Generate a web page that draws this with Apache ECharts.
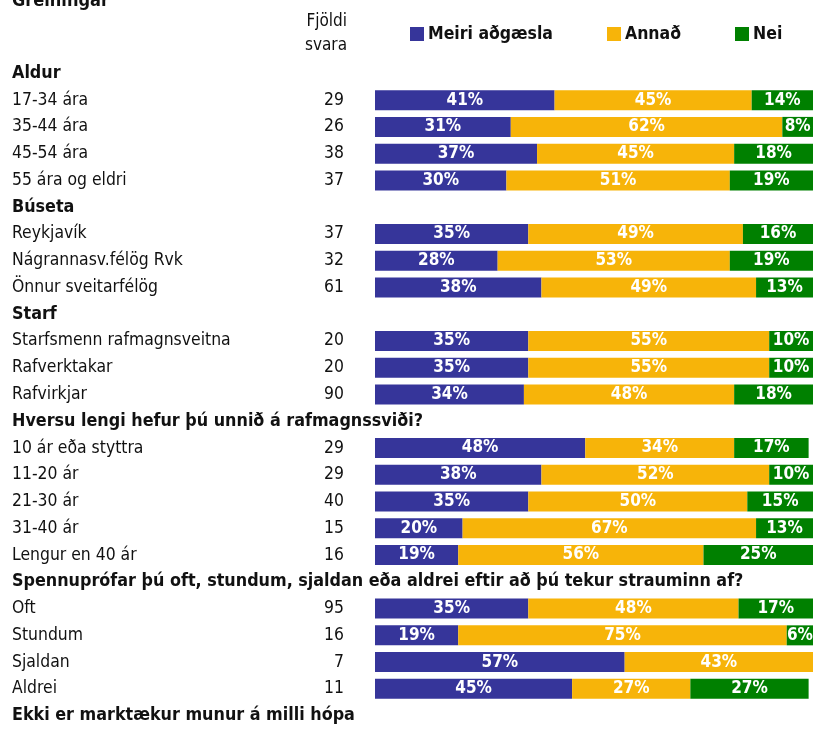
<!DOCTYPE html>
<html>
<head>
<meta charset="utf-8">
<script src="https://cdn.jsdelivr.net/npm/echarts@6/dist/echarts.min.js"></script>
<style>
  body { margin: 0; background: #fff; }
  #main { width: 817px; height: 729px; }
</style>
</head>
<body>
<div id="main"></div>
<script>
// gögn
var categories = [
  'Aldur', '17-34 ára', '35-44 ára', '45-54 ára', '55 ára og eldri',
  'Búseta', 'Reykjavík', 'Nágrannasv.félög Rvk', 'Önnur sveitarfélög',
  'Starf', 'Starfsmenn rafmagnsveitna', 'Rafverktakar', 'Rafvirkjar',
  'Hversu lengi hefur þú unnið á rafmagnssviði?', '10 ár eða styttra', '11-20 ár', '21-30 ár', '31-40 ár', 'Lengur en 40 ár',
  'Spennuprófar þú oft, stundum, sjaldan eða aldrei eftir að þú tekur strauminn af?', 'Oft', 'Stundum', 'Sjaldan', 'Aldrei',
  'Ekki er marktækur munur á milli hópa'
];
var headers = ['Aldur', 'Búseta', 'Starf',
  'Hversu lengi hefur þú unnið á rafmagnssviði?',
  'Spennuprófar þú oft, stundum, sjaldan eða aldrei eftir að þú tekur strauminn af?',
  'Ekki er marktækur munur á milli hópa'];
var counts = ['', 29, 26, 38, 37, '', 37, 32, 61, '', 20, 20, 90, '', 29, 29, 40, 15, 16, '', 95, 16, 7, 11, ''];
var meiri = [null, 41, 31, 37, 30, null, 35, 28, 38, null, 35, 35, 34, null, 48, 38, 35, 20, 19, null, 35, 19, 57, 45, null];
var annad = [null, 45, 62, 45, 51, null, 49, 53, 49, null, 55, 55, 48, null, 34, 52, 50, 67, 56, null, 48, 75, 43, 27, null];
var nei   = [null, 14, 8, 18, 19, null, 16, 19, 13, null, 10, 10, 18, null, 17, 10, 15, 13, 25, null, 17, 6, 0, 27, null];

var FONT = '"Liberation Sans Narrow", "Arial Narrow", "DejaVu Sans Condensed", sans-serif';
var INK = '#111';

var chart = echarts.init(document.getElementById('main'));

function makeSeries(name, data, color) {
  return {
    name: name,
    type: 'bar',
    stack: 'alls',
    data: data,
    barWidth: 20,
    itemStyle: { color: color },
    label: {
      show: true,
      position: 'inside',
      color: '#fff',
      fontFamily: FONT,
      fontWeight: 'bold',
      fontSize: 17,
      formatter: function (p) { return p.value ? p.value + '%' : ''; }
    }
  };
}

chart.setOption({
  animation: false,
  textStyle: { fontFamily: FONT },
  graphic: [
    { type: 'text', left: 12, top: -8,
      style: { text: 'Greiningar', font: 'bold 18px ' + FONT, fill: INK } },
    { type: 'text', x: 347, y: 10,
      style: { text: 'Fjöldi\nsvara', font: '17px ' + FONT, fill: INK, align: 'right', lineHeight: 24 } }
  ],
  legend: {
    left: 410,
    top: 25,
    padding: 0,
    itemWidth: 14,
    itemHeight: 14,
    itemGap: 54,
    icon: 'rect',
    textStyle: { fontFamily: FONT, fontSize: 17.5, fontWeight: 'bold', color: INK, padding: [0, 0, 0, -1] },
    data: ['Meiri aðgæsla', 'Annað', 'Nei']
  },
  grid: { left: 375, right: 4, top: 60, height: 669, containLabel: false },
  xAxis: { type: 'value', min: 0, max: 100, show: false },
  yAxis: [
    {
      type: 'category',
      inverse: true,
      data: categories,
      position: 'left',
      offset: 0,
      axisLine: { show: false },
      axisTick: { show: false },
      axisLabel: {
        interval: 0,
        align: 'left',
        margin: 363,
        formatter: function (v) {
          return headers.indexOf(v) >= 0 ? '{b|' + v + '}' : '{n|' + v + '}';
        },
        rich: {
          b: { fontFamily: FONT, fontSize: 17.8, fontWeight: 'bold', color: INK },
          n: { fontFamily: FONT, fontSize: 17.4, color: INK }
        }
      }
    },
    {
      type: 'category',
      inverse: true,
      data: counts,
      position: 'left',
      offset: 0,
      axisLine: { show: false },
      axisTick: { show: false },
      axisLabel: {
        interval: 0,
        align: 'right',
        margin: 31,
        fontFamily: FONT,
        fontSize: 17.4,
        color: INK
      }
    }
  ],
  series: [
    makeSeries('Meiri aðgæsla', meiri, '#36359a'),
    makeSeries('Annað', annad, '#f7b409'),
    makeSeries('Nei', nei, '#008000')
  ]
});
</script>
</body>
</html>
